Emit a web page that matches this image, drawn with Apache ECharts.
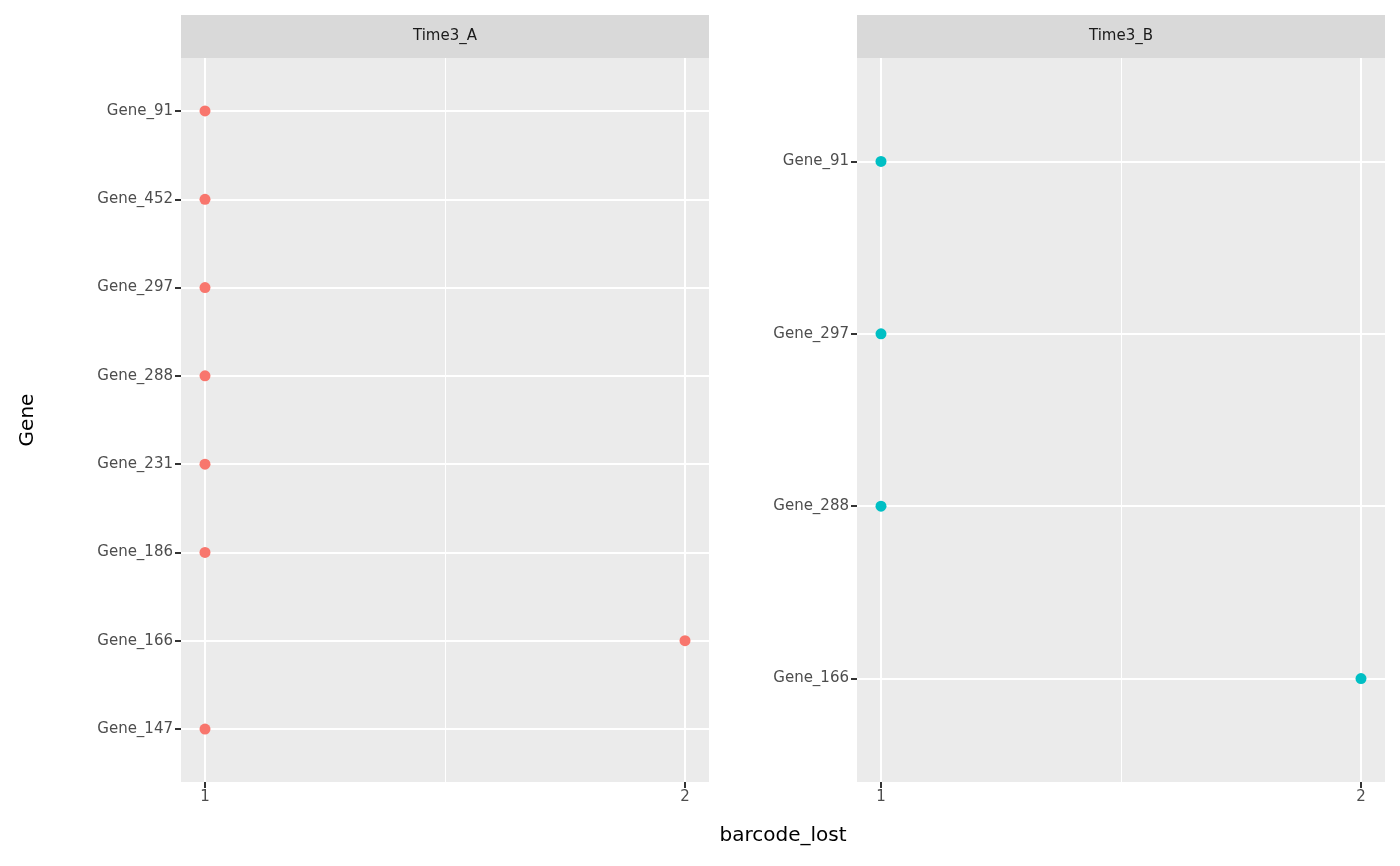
<!DOCTYPE html>
<html><head><meta charset="utf-8">
<script src="https://cdn.jsdelivr.net/npm/echarts@6/dist/echarts.min.js"></script>
<style>html,body{margin:0;padding:0;background:#fff}#c{width:1400px;height:866px}</style>
</head><body><div id="c"></div>
<script>
const genesA = ['Gene_147','Gene_166','Gene_186','Gene_231','Gene_288','Gene_297','Gene_452','Gene_91'];
const valuesA = [1,2,1,1,1,1,1,1];
const genesB = ['Gene_166','Gene_288','Gene_297','Gene_91'];
const valuesB = [2,1,1,1];
const xTicks = [1,2];
const panels = ['Time3_A','Time3_B'];
const colors = ['#F8766D','#00BFC4'];

const chart = echarts.init(document.getElementById('c'));
const font = 'DejaVu Sans';
const grids = [
  {left:181, top:58, width:528, height:724},
  {left:857, top:58, width:528, height:724}
];
function yAxis(i, genes){
  const ticks = genes.map((g,k)=>k+1);
  return {type:'value', gridIndex:i, min:0.4, max:genes.length+0.6,
    axisLine:{show:false},
    axisTick:{show:true, customValues:ticks, length:6, lineStyle:{color:'#333',width:2}},
    axisLabel:{customValues:ticks, formatter:v=>genes[Math.round(v)-1]||'', color:'#4D4D4D', fontSize:15, fontFamily:font, margin:8},
    splitLine:{show:true, lineStyle:{color:'#fff', width:2}}};
}
function xAxis(i){
  return {type:'value', gridIndex:i, min:0.95, max:2.05,
    axisLine:{show:false},
    axisTick:{show:true, customValues:xTicks, length:6, lineStyle:{color:'#333',width:2}},
    axisLabel:{customValues:xTicks, color:'#4D4D4D', fontSize:15, fontFamily:font, margin:8, formatter:v=>String(v)},
    splitLine:{show:true, lineStyle:{color:'#fff', width:2}}};
}
const series = [];
[[genesA,valuesA],[genesB,valuesB]].forEach(([g,v],i)=>{
  series.push({type:'scatter', xAxisIndex:i, yAxisIndex:i, symbolSize:11,
    itemStyle:{color:colors[i], opacity:1},
    data:v.map((x,k)=>[x,k+1]),
    markLine:{silent:true, symbol:'none', label:{show:false}, lineStyle:{color:'#fff',width:1,type:'solid'},
      data:[{xAxis:1.5}], z:1}
  });
});
chart.setOption({
  animation:false,
  backgroundColor:'#fff',
  grid: grids.map(g=>Object.assign({show:true, backgroundColor:'#EBEBEB', borderWidth:0}, g)),
  xAxis:[xAxis(0), xAxis(1)],
  yAxis:[yAxis(0,genesA), yAxis(1,genesB)],
  series,
  graphic:[
    ...grids.map((g,i)=>({type:'group', children:[
      {type:'rect', shape:{x:g.left, y:15, width:g.width, height:43}, style:{fill:'#D9D9D9'}},
      {type:'text', x:g.left+g.width/2, y:36.5, style:{text:panels[i], fill:'#1A1A1A', font:'15px "DejaVu Sans"', align:'center', verticalAlign:'middle'}}
    ]})),
    {type:'text', x:783, y:836, style:{text:'barcode_lost', fill:'#000', font:'20px "DejaVu Sans"', align:'center', verticalAlign:'middle'}},
    {type:'text', x:28, y:420, rotation:Math.PI/2, style:{text:'Gene', fill:'#000', font:'20px "DejaVu Sans"', align:'center', verticalAlign:'middle'}}
  ]
});
</script></body></html>
